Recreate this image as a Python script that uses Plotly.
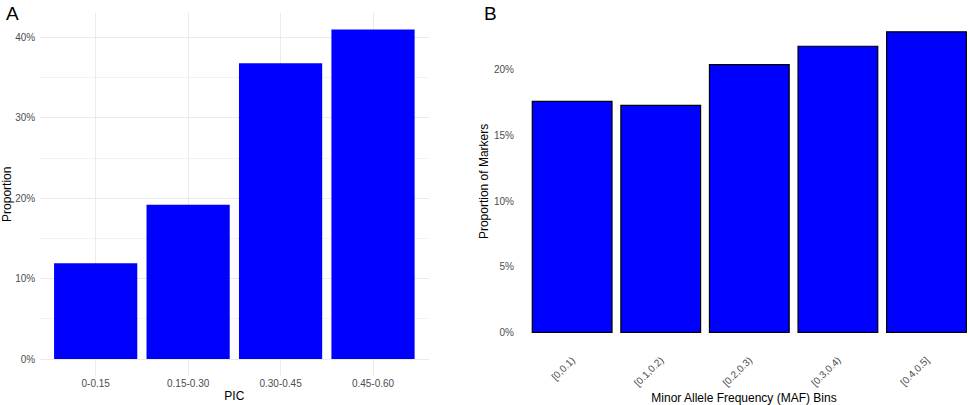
import plotly.graph_objects as go

### panel A data (PIC)
pic_bins = ["0-0.15", "0.15-0.30", "0.30-0.45", "0.45-0.60"]
pic_prop = [11.9, 19.2, 36.8, 41.0]
pic_ticks = [0, 10, 20, 30, 40]

### panel B data (MAF)
maf_bins = ["[0,0.1)", "[0.1,0.2)", "[0.2,0.3)", "[0.3,0.4)", "[0.4,0.5]"]
maf_prop = [17.6, 17.3, 20.4, 21.8, 22.9]
maf_ticks = [0, 5, 10, 15, 20]

W, H = 969, 405
FONT = "Liberation Sans, Arial, sans-serif"

fig = go.Figure()

fig.add_trace(go.Bar(x=pic_bins, y=pic_prop, width=0.9,
                     marker=dict(color="#0000FF", line=dict(width=0)),
                     xaxis="x", yaxis="y", showlegend=False))

fig.add_trace(go.Bar(x=maf_bins, y=maf_prop, width=0.9,
                     marker=dict(color="#0000FF", line=dict(color="black", width=1.2)),
                     xaxis="x2", yaxis="y2", showlegend=False))

tick_font = dict(family=FONT, size=10, color="#4D4D4D")
title_font = dict(family=FONT, size=12, color="black")

fig.update_layout(
    width=W, height=H,
    margin=dict(l=0, r=0, t=0, b=0),
    paper_bgcolor="white", plot_bgcolor="white",
    font=dict(family=FONT),
    ### panel A axes
    xaxis=dict(domain=[40.2 / W, 428.5 / W], range=[-0.6, 3.6],
               showgrid=True, gridcolor="#EBEBEB", gridwidth=1,
               showline=False, zeroline=False, ticks="",
               tickfont=tick_font,
               title=dict(text="PIC", font=title_font, standoff=4)),
    yaxis=dict(domain=[(H - 375.5) / H, (H - 13) / H], range=[-2.05, 43.05],
               tickvals=pic_ticks, ticktext=[f"{v}%" for v in pic_ticks],
               showgrid=True, gridcolor="#EBEBEB", gridwidth=1,
               minor=dict(tickvals=[5, 15, 25, 35], showgrid=True,
                          gridcolor="#F3F3F3", gridwidth=0.6),
               showline=False, zeroline=False, ticks="",
               tickfont=tick_font, ticklabelstandoff=4,
               title=dict(text="Proportion", font=title_font, standoff=2)),
    ### panel B axes
    xaxis2=dict(domain=[519 / W, 1.0], range=[-0.6, 4.48], anchor="y2",
                showgrid=False, showline=False, zeroline=False, ticks="",
                tickangle=-45, tickfont=tick_font, ticklabelstandoff=4,
                title=dict(text="Minor Allele Frequency (MAF) Bins", font=title_font, standoff=6)),
    yaxis2=dict(domain=[(H - 347.4) / H, (H - 15.4) / H], range=[-1.15, 24.15], anchor="x2",
                tickvals=maf_ticks, ticktext=[f"{v}%" for v in maf_ticks],
                showgrid=False, showline=False, zeroline=False, ticks="",
                tickfont=tick_font, ticklabelstandoff=4,
                title=dict(text="Proportion of Markers", font=title_font, standoff=2)),
    annotations=[
        dict(text="A", x=4 / W, y=1 - 1 / H, xref="paper", yref="paper",
             xanchor="left", yanchor="top", showarrow=False,
             font=dict(family=FONT, size=19, color="black")),
        dict(text="B", x=482 / W, y=1 - 1 / H, xref="paper", yref="paper",
             xanchor="left", yanchor="top", showarrow=False,
             font=dict(family=FONT, size=19, color="black")),
    ],
)

### drop the default page margin so the figure sits at the window's corner
fig.write_html("out.html", config={"displayModeBar": False},
               post_script="document.body.style.margin='0';")
